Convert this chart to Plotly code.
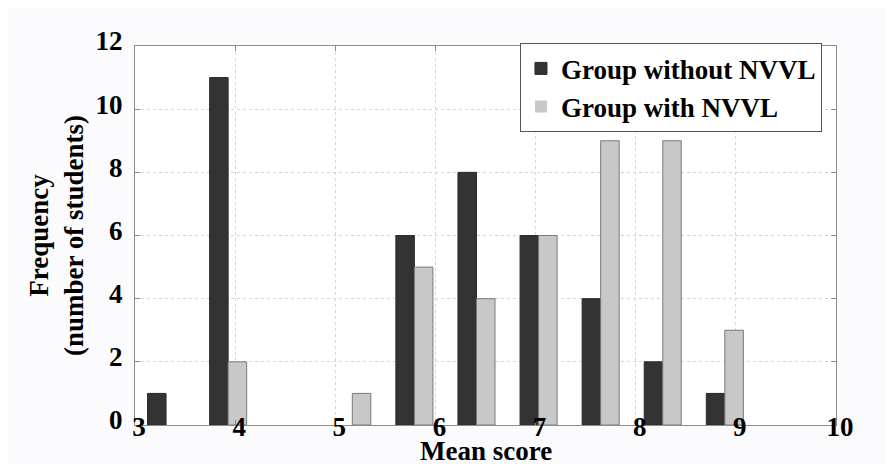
import plotly.graph_objects as go

# Bin centres of the histogram (mean score)
bin_centers = [3.31, 3.93, 4.55, 5.17, 5.79, 6.41, 7.03, 7.65, 8.27, 8.89]
without_nvvl = [1, 11, 0, 0, 6, 8, 6, 4, 2, 1]
with_nvvl = [0, 2, 0, 1, 5, 4, 6, 9, 9, 3]

x_ticks = [3, 4, 5, 6, 7, 8, 9, 10]
y_ticks = [0, 2, 4, 6, 8, 10, 12]

FONT = "Liberation Serif"
FS = 27
BAR_W = 0.185


def edge_widths(values):
    # no outline on empty bins (MATLAB draws nothing there)
    return [1 if v > 0 else 0 for v in values]


fig = go.Figure()
fig.add_trace(go.Bar(
    x=bin_centers, y=without_nvvl, name="Group without NVVL",
    width=BAR_W, offset=-BAR_W,
    marker=dict(color="#333333",
                line=dict(color="#2a2a2a", width=edge_widths(without_nvvl))),
))
fig.add_trace(go.Bar(
    x=bin_centers, y=with_nvvl, name="Group with NVVL",
    width=BAR_W, offset=0,
    marker=dict(color="#c8c8c8",
                line=dict(color="#7a7a7a", width=edge_widths(with_nvvl))),
))

bold = dict(family=FONT, size=FS, color="black", weight="bold")

axis_common = dict(
    showline=True, linecolor="#8c8c8c", linewidth=1, mirror="ticks",
    ticks="inside", ticklen=5, tickcolor="#8c8c8c",
    showgrid=True, gridcolor="#d6d6d6", griddash="dot", gridwidth=1,
    zeroline=False, automargin=False,
    tickfont=bold,
)

fig.update_layout(
    width=894, height=464,
    margin=dict(l=127, r=66, t=38, b=47, autoexpand=False),
    paper_bgcolor="#fbfbfd", plot_bgcolor="white",
    barmode="overlay",
    showlegend=True,
    legend=dict(
        x=0.98, y=1.007, xanchor="right", yanchor="top",
        bgcolor="white", bordercolor="#555555", borderwidth=1,
        font=bold, tracegroupgap=0, itemwidth=30,
    ),
    xaxis=dict(
        range=[3, 10], tickvals=x_ticks, ticktext=[str(v) for v in x_ticks],
        ticklabelstandoff=-22, ticklabelshift=4,
        **axis_common,
    ),
    yaxis=dict(
        range=[0, 12], tickvals=y_ticks, ticktext=[str(v) for v in y_ticks],
        ticklabelstandoff=6, ticklabelshift=-5,
        title=dict(text="Frequency<br>(number of students)", standoff=4, font=bold),
        **axis_common,
    ),
    annotations=[dict(
        text="Mean score", xref="paper", yref="paper", x=0.5, y=0,
        xanchor="center", yanchor="top", yshift=-10, showarrow=False,
        font=bold, borderpad=0,
    )],
)

fig.write_html("out.html")
